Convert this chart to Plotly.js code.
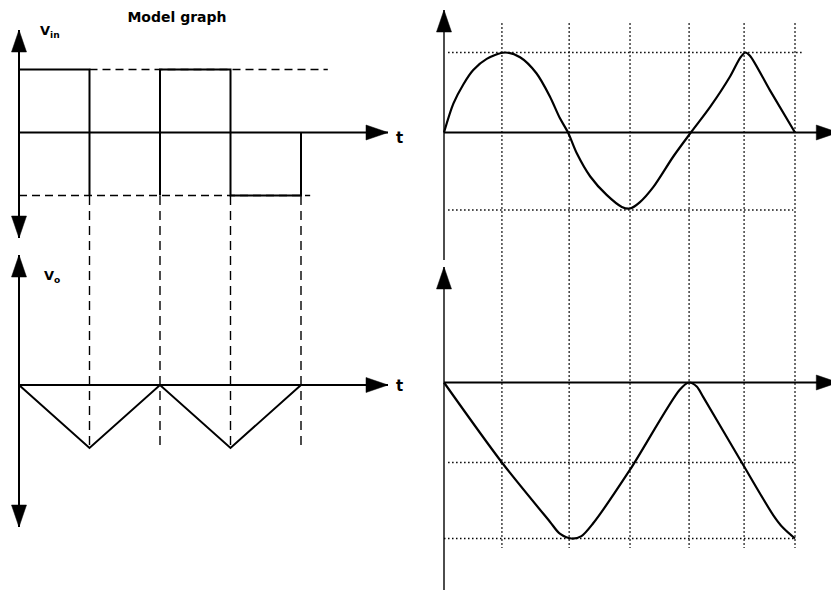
<!DOCTYPE html>
<html><head><meta charset="utf-8">
<script src="https://cdn.plot.ly/plotly-3.0.1.min.js"></script>
<style>html,body{margin:0;padding:0;background:#fff}</style>
</head><body><div id="chart" style="width:831px;height:590px"></div>
<script>
// ---------- Left: model graph (t in half-periods, V normalised) ----------
const vinT = [0, 0, 1, 1, null, 2, 2, 3, 3, 4, 4];
const vinV = [0, 1, 1, -1, null, -1, 1, 1, -1, -1, 0];
const voT = [0, 1, 2, 3, 4];
const voV = [0, -1, 0, -1, 0];
const switchT = [1, 2, 3, 4];
const vinHighDashT = [1, 4.38];
const vinLowDashT = [0, 4.13];

// ---------- Right: observed graphs ----------
const inT = [0, 0.16, 0.33, 0.50, 0.73, 1.04, 1.30, 1.58, 1.81, 1.98, 2.12, 2.27, 2.50, 2.78, 3.04, 3.18, 3.35, 3.58, 3.92, 4.22, 4.55, 4.89, 5.06, 5.15, 5.23, 5.57, 6.0];
const inV = [0, 0.36, 0.60, 0.78, 0.92, 1.0, 0.94, 0.74, 0.45, 0.18, 0, -0.26, -0.55, -0.78, -0.93, -0.95, -0.87, -0.68, -0.30, 0, 0.32, 0.70, 0.93, 1.0, 0.96, 0.53, 0];
const outT = [0, 0.99, 1.81, 1.98, 2.18, 2.35, 2.55, 3.18, 4.03, 4.19, 4.32, 4.43, 5.09, 5.63, 5.80, 6.0];
const outV = [0, -1.0, -1.74, -1.89, -1.95, -1.92, -1.76, -1.09, -0.09, 0, -0.05, -0.18, -1.0, -1.66, -1.82, -1.95];
const gridT = [0.99, 2.14, 3.18, 4.19, 5.13, 6.0];
const inGridV = [1.0, -0.97];
const outGridV = [-1.0, -1.95];

// ---------- helpers ----------
const BLACK = '#000';
function seg(xs, ys, xa, ya, line, shape) {
  return {type: 'scatter', mode: 'lines', x: xs, y: ys, xaxis: xa, yaxis: ya,
    line: Object.assign({color: BLACK, width: 2}, line || {}, shape ? {shape: shape} : {}),
    hoverinfo: 'skip', showlegend: false, connectgaps: false};
}
function verticals(ts, v0, v1) {
  const x = [], y = [];
  ts.forEach(t => { x.push(t, t, null); y.push(v0, v1, null); });
  return [x, y];
}
function horizontals(vs, t0s, t1s) {
  const x = [], y = [];
  vs.forEach((v, i) => { x.push(t0s[i], t1s[i], null); y.push(v, v, null); });
  return [x, y];
}
const ARROW = {
  up: 'M0,0L-7.5,-22L7.5,-22Z',
  down: 'M0,0L-7.5,22L7.5,22Z',
  right: 'M0,0L-22,7.5L-22,-7.5Z'
};
function arrow(xref, yref, x, y, dir) {
  return {type: 'path', xref: xref, yref: yref, xsizemode: 'pixel', ysizemode: 'pixel',
    xanchor: x, yanchor: y, path: ARROW[dir], fillcolor: BLACK,
    line: {color: BLACK, width: 0.5}, layer: 'above'};
}

const traces = [];
// left top (Vin)
traces.push(seg([0, 0], [1.627, -1.675], 'x', 'y', {width: 2}));
traces.push(seg([0, 5.234], [0, 0], 'x', 'y', {width: 2}));
traces.push(seg(vinHighDashT, [1, 1], 'x', 'y', {width: 1.6, dash: '8px,5px'}));
traces.push(seg(vinLowDashT, [-1, -1], 'x', 'y', {width: 1.6, dash: '8px,5px'}));
traces.push(seg(vinT, vinV, 'x', 'y', {width: 2}));
// left bottom (Vo)
traces.push(seg([0, 0], [2.063, -2.254], 'x', 'y2', {width: 2}));
traces.push(seg([0, 5.234], [0, 0], 'x', 'y2', {width: 2}));
const dv = verticals(switchT, 3.0, -1.03);
traces.push(seg(dv[0], dv[1], 'x', 'y2', {width: 1.4, dash: '9px,6px'}));
traces.push(seg(voT, voV, 'x', 'y2', {width: 2}));
// right grid (dotted)
const dotted = {width: 1.5, dash: '1.5px,2.5px', color: '#000'};
const gv = verticals(gridT, 4.49, -2.07);
traces.push(seg(gv[0], gv[1], 'x2', 'y4', dotted));
const gh1 = horizontals(inGridV, [0.07, 0.07], [6.12, 5.97]);
traces.push(seg(gh1[0], gh1[1], 'x2', 'y3', dotted));
const gh2 = horizontals(outGridV, [0.07, 0.0], [6.0, 6.0]);
traces.push(seg(gh2[0], gh2[1], 'x2', 'y4', dotted));
// right axes
traces.push(seg([0, 0], [1.531, -1.594], 'x2', 'y3', {width: 1.4}));
traces.push(seg([0, 6.74], [0, 0], 'x2', 'y3', {width: 2.2}));
traces.push(seg([0, 0], [1.444, -2.6], 'x2', 'y4', {width: 1.4}));
traces.push(seg([0, 6.74], [0, 0], 'x2', 'y4', {width: 2.2}));
// right curves
traces.push(seg(inT, inV, 'x2', 'y3', {width: 2.2, smoothing: 0.8}, 'spline'));
traces.push(seg(outT, outV, 'x2', 'y4', {width: 2.2, smoothing: 0.8}, 'spline'));

const shapes = [
  arrow('x', 'y', 0, 1.627, 'up'),
  arrow('x', 'y', 0, -1.675, 'down'),
  arrow('x', 'y', 5.234, 0, 'right'),
  arrow('x', 'y2', 0, 2.063, 'up'),
  arrow('x', 'y2', 0, -2.254, 'down'),
  arrow('x', 'y2', 5.234, 0, 'right'),
  arrow('x2', 'y3', 0, 1.531, 'up'),
  arrow('x2', 'y3', 6.74, 0, 'right'),
  arrow('x2', 'y4', 0, 1.444, 'up'),
  arrow('x2', 'y4', 6.74, 0, 'right')
];

const labelFont = {family: 'DejaVu Sans, Arial, sans-serif', size: 13, color: BLACK, weight: 'bold'};
const tFont = {family: 'DejaVu Sans, Arial, sans-serif', size: 15, color: BLACK, weight: 'bold'};
const annotations = [
  {xref: 'x', yref: 'y', x: 0.27, y: 1.6, text: 'V<sub>in</sub>', showarrow: false,
   xanchor: 'left', yanchor: 'middle', font: labelFont},
  {xref: 'x', yref: 'y2', x: 0.32, y: 1.73, text: 'V<sub>o</sub>', showarrow: false,
   xanchor: 'left', yanchor: 'middle', font: labelFont},
  {xref: 'x', yref: 'y', x: 5.39, y: -0.09, text: 't', showarrow: false,
   xanchor: 'center', yanchor: 'middle', font: tFont},
  {xref: 'x', yref: 'y2', x: 5.39, y: -0.02, text: 't', showarrow: false,
   xanchor: 'center', yanchor: 'middle', font: tFont}
];

const hidden = {visible: false, fixedrange: true, domain: [0, 1], showgrid: false, zeroline: false};
const layout = {
  width: 831, height: 590,
  margin: {l: 0, r: 0, t: 0, b: 0, pad: 0},
  paper_bgcolor: '#fff', plot_bgcolor: 'rgba(0,0,0,0)',
  title: {text: 'Model graph', x: 0.213, xref: 'paper', xanchor: 'center',
          y: 0.971, yref: 'container', yanchor: 'middle',
          font: {family: 'DejaVu Sans, Arial, sans-serif', size: 14, color: BLACK, weight: 'bold'}},
  xaxis: Object.assign({}, hidden, {range: [-0.2695, 11.5177], anchor: 'y'}),
  yaxis: Object.assign({}, hidden, {range: [-7.2619, 2.1032], anchor: 'x'}),
  yaxis2: Object.assign({}, hidden, {range: [-3.254, 6.1111], anchor: 'x'}),
  xaxis2: Object.assign({}, hidden, {range: [-7.5897, 6.6154], anchor: 'y3'}),
  yaxis3: Object.assign({}, hidden, {range: [-5.71875, 1.65625], anchor: 'x2'}),
  yaxis4: Object.assign({}, hidden, {range: [-2.59375, 4.78125], anchor: 'x2'}),
  shapes: shapes,
  annotations: annotations,
  showlegend: false
};
Plotly.newPlot('chart', traces, layout, {staticPlot: true, displayModeBar: false});
</script>
</body></html>
